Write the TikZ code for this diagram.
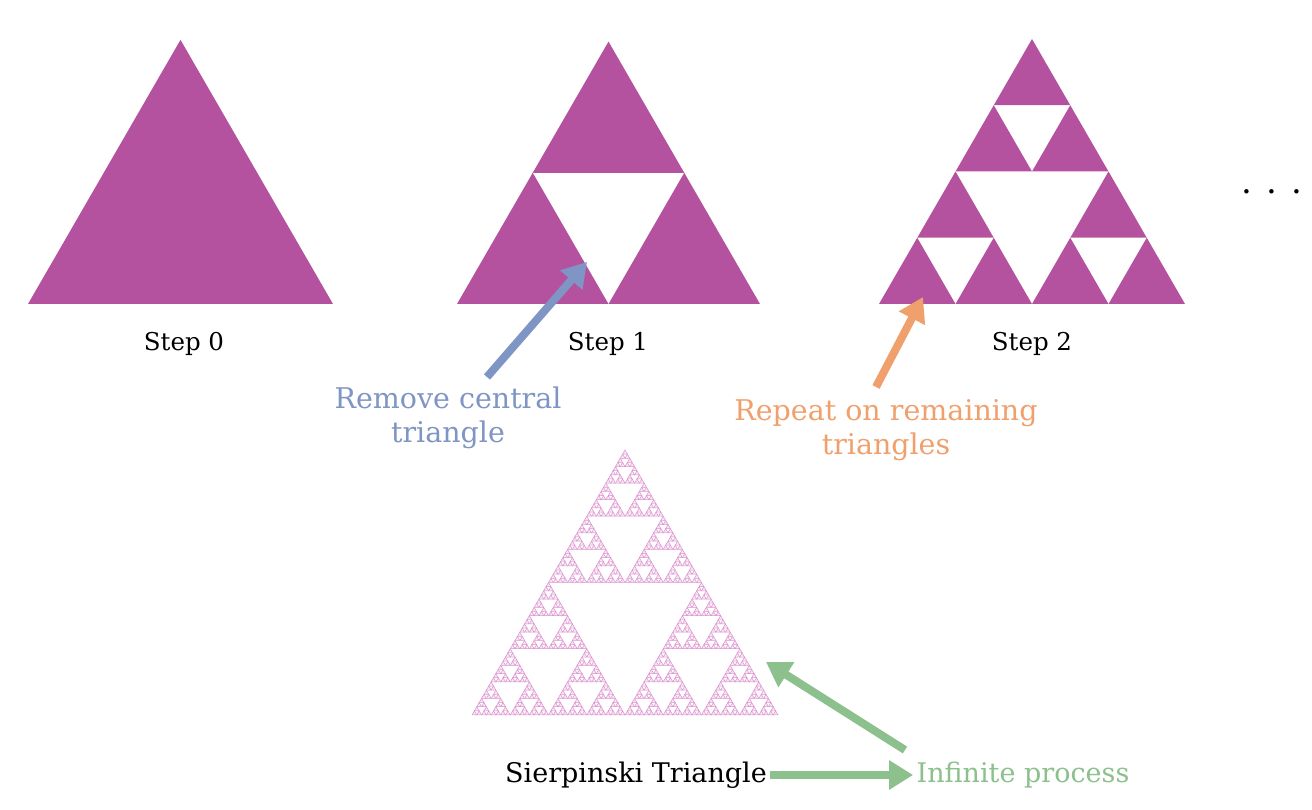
\documentclass[tikz,border=0pt]{standalone}
\usepackage{fontspec}
\setmainfont{DejaVu Serif}
\usetikzlibrary{arrows.meta}
\definecolor{mag}{HTML}{B5529F}
\definecolor{pinkf}{HTML}{F7E4F3}
\definecolor{pinkd}{HTML}{DC93D0}
\definecolor{blu}{HTML}{7F95C3}
\definecolor{ora}{HTML}{F0A06C}
\definecolor{grn}{HTML}{8CC08C}
\newcommand\sierp[4]{%
 \ifnum#4=0\relax
   \path[tri] (#1,#2) -- ++(#3,0) -- ++(120:#3) -- cycle;
 \else
  \begingroup
   \pgfmathsetmacro\hs{#3/2}%
   \pgfmathsetmacro\xa{#1+\hs}%
   \pgfmathsetmacro\xb{#1+\hs/2}%
   \pgfmathsetmacro\yb{#2+\hs*0.8660254}%
   \pgfmathtruncatemacro\dd{#4-1}%
   \edef\next{\noexpand\sierp{#1}{#2}{\hs}{\dd}\noexpand\sierp{\xa}{#2}{\hs}{\dd}\noexpand\sierp{\xb}{\yb}{\hs}{\dd}}\next
  \endgroup
 \fi}
\begin{document}
\begin{tikzpicture}[x=1pt,y=1pt,
  tri/.style={fill=mag},
  lbl/.style={font=\fontsize{24.5}{28}\selectfont},
  note/.style={font=\fontsize{28.5}{34}\selectfont, align=center},
  arr/.style={line width=8pt,-{Triangle[length=24pt,width=28pt]}}]
\useasboundingbox (0,0) rectangle (1312,810);
\fill[white] (0,0) rectangle (1312,810);
\sierp{28}{506}{305}{0}
\sierp{457}{506}{303}{1}
\sierp{879}{506}{306}{2}
\begin{scope}[tri/.style={fill=pinkf,draw=pinkd,line width=0.5pt}]
\sierp{472}{95}{306}{6}
\end{scope}
\node[lbl] (s0) at (184,466) {Step 0};
\node[lbl] (s1) at (608,466) {Step 1};
\node[lbl] (s2) at (1032,466) {Step 2};
\node[lbl, font=\fontsize{34}{40}\selectfont] (dots) at (1272,618) {. . .};
\node[note, text=blu] (rm) at (448,392) {Remove central\\triangle};
\node[note, text=ora] (rp) at (886,380) {Repeat on remaining\\triangles};
\node[lbl, font=\fontsize{27}{32}\selectfont] (st) at (636,35) {Sierpinski Triangle};
\node[lbl, font=\fontsize{27}{32}\selectfont, text=grn] (ip) at (1023,35) {Infinite process};
\coordinate (b1) at (487,433); \coordinate (b2) at (587,548);
\coordinate (o1) at (876,423); \coordinate (o2) at (923,513);
\coordinate (g1) at (905,60); \coordinate (g2) at (766,148);
\draw[arr, blu] (b1) -- (b2);
\draw[arr, ora] (o1) -- (o2);
\draw[arr, grn] (g1) -- (g2);
\draw[arr, grn] (st.east) -- (ip.west);
\end{tikzpicture}
\end{document}
